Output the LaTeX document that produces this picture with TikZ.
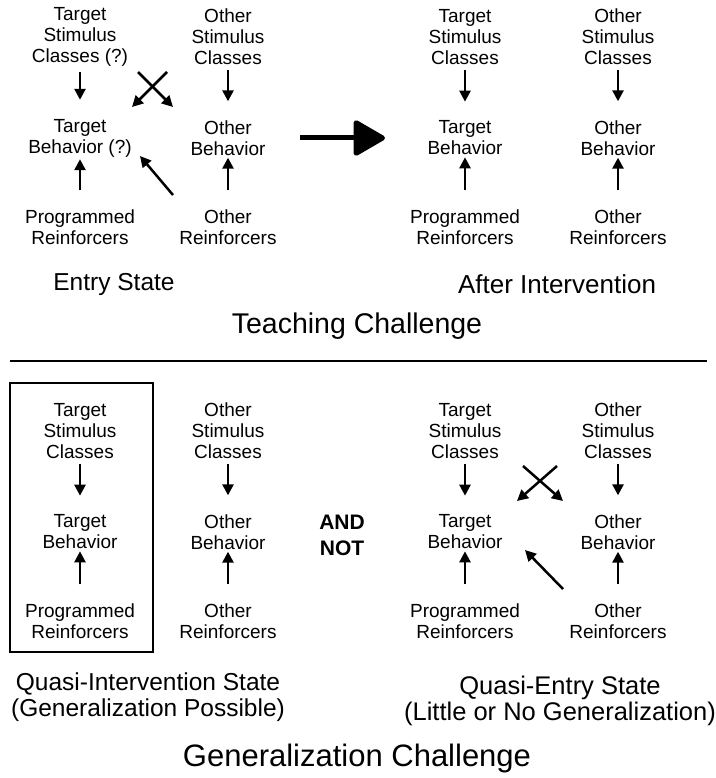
\documentclass[tikz,border=0pt]{standalone}
\usepackage{fontspec}
\setmainfont{Liberation Sans}
\usetikzlibrary{arrows.meta}
\newcommand{\fs}[2]{\fontsize{#1}{#2}\selectfont}
% #1: prefix, #2: left x, #3: right x, #4: top y, #5: mark
\newcommand{\mkpanel}[5]{%
	\node[box] (#1ts) at (#2,#4) {Target\\Stimulus\\Classes#5};
	\node[box] (#1os) at (#3,#4) {Other\\Stimulus\\Classes};
	\node[box] (#1tb) at (#2,#4+101) {Target\\Behavior#5};
	\node[box] (#1ob) at (#3,#4+101) {Other\\Behavior};
	\node[box] (#1pr) at (#2,#4+190) {Programmed\\Reinforcers};
	\node[box] (#1or) at (#3,#4+190) {Other\\Reinforcers};
	\draw[down] (#1ts) -- (#1tb);
	\draw[down] (#1os) -- (#1ob);
	\draw[up] (#1pr) -- (#1tb);
	\draw[up] (#1or) -- (#1ob);
}
% crossed and diagonal arrows
\newcommand{\mkcross}[1]{%
	\draw[arr] ([shift={(58,35)}]#1ts.center) -- ([shift={(-55,-31)}]#1ob.center);
	\draw[arr] ([shift={(-61,35)}]#1os.center) -- ([shift={(52,-31)}]#1tb.center);
	\draw[arr] ([shift={(-55,-32)}]#1or.center) -- ([shift={(60,18)}]#1tb.center);
}

\tikzset{
	box/.style={align=center,inner sep=0pt,font=\fs{19}{21}},
	state/.style={align=center,inner sep=0pt,font=\fs{24.5}{26}},
	title/.style={inner sep=0pt,font=\fs{29}{32}},
	arr/.style={-{Triangle[length=11pt,width=11pt]},line width=2.5pt},
	down/.style={arr,shorten <=5pt,shorten >=19pt},
	up/.style={arr,shorten <=19pt,shorten >=2pt},
}

\begin{document}
\begin{tikzpicture}[x=1pt,y=-1pt]
	\useasboundingbox (0,0) rectangle (715,778);
	
	% Teaching challenge
	\mkpanel{a}{80}{228}{37}{ (?)}
	\mkcross{a}
	\mkpanel{b}{465}{618}{37}{}
	\draw[-{Triangle[length=34pt,width=38pt,round]},line width=5pt]
		([shift={(72,0)}]aob.center) -- ([shift={(-80,0)}]btb.center);
	
	\node[state] (entry) at (114,284) {Entry State};
	\node[state,font=\fs{26}{26}] (after) at (557,284) {After Intervention};
	\node[title,font=\fs{28.5}{32}] (teach) at (357,326) {Teaching Challenge};
	
	% Separator
	\draw[line width=2.5pt] (10,361) -- (707,361);
	
	% Generalization challenge
	\mkpanel{c}{80}{228}{431}{}
	\draw[line width=1.8pt] (10,383) rectangle (153,652);
	\node[align=center,inner sep=0pt,font=\fs{21}{26}\bfseries] (andnot) at (342,535) {AND\\NOT};
	\mkpanel{d}{465}{618}{431}{}
	\mkcross{d}
	
	\node[state] (quasii) at (148,697) {Quasi-Intervention State\\(Generalization Possible)};
	\node[state,font=\fs{25.5}{26}] (quasie) at (560,701) {Quasi-Entry State\\(Little or No Generalization)};
	\node[title,font=\fs{31}{32}] (gen) at (357,758) {Generalization Challenge};
\end{tikzpicture}
\end{document}
